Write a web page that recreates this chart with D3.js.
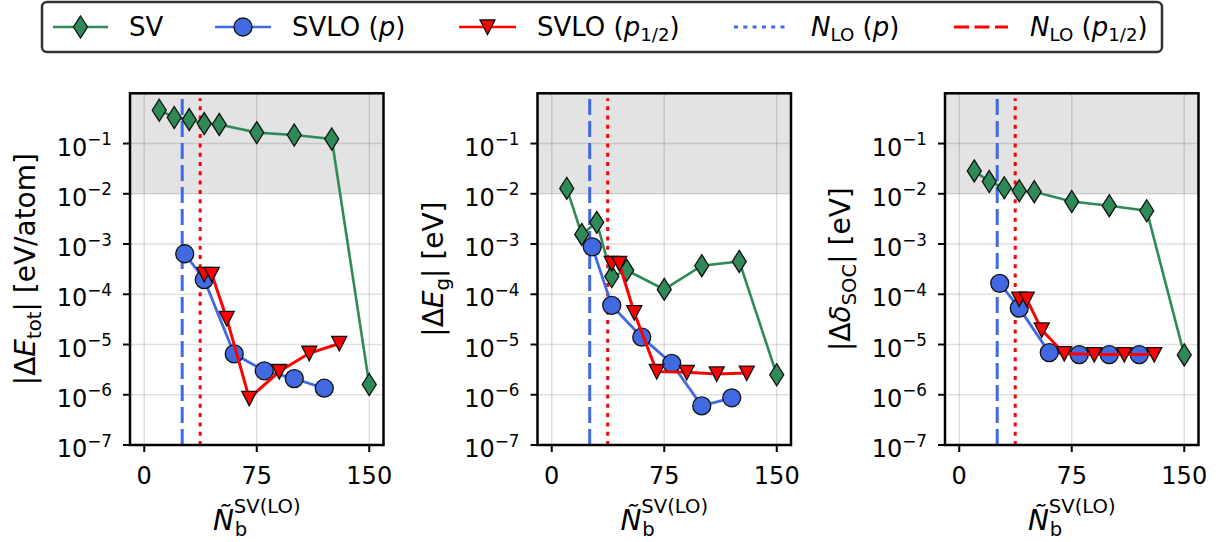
<!DOCTYPE html>
<html><head><meta charset="utf-8">
<script src="https://cdn.jsdelivr.net/npm/d3@7"></script>
<style>
body{margin:0;background:#fff}
svg{display:block}
text{font-family:"DejaVu Sans",sans-serif;fill:#000}
</style>
</head><body>
<svg id="c" width="1229" height="542"></svg>
<script>
// ---------- data ----------
const xTickValues = [0, 75, 150];
const yTickExponents = [-7, -6, -5, -4, -3, -2, -1];
const nLoP = 25.3;       // N_LO (p)
const nLoHalf = 37.3;    // N_LO (p1/2)
const shadeRange = [1e-2, 1];

const svX = [10, 20, 30, 40, 50, 75, 100, 125, 150];
const svloPX = [27, 40, 60, 80, 100, 120];
const svloHalfX = [40, 45, 55, 70, 90, 110, 130];

// panel 1 : |dE_tot| [eV/atom]
const svEtot = [0.46, 0.33, 0.30, 0.25, 0.24, 0.165, 0.148, 0.123, 1.6e-6];
const svloPEtot = [6.4e-4, 1.95e-4, 6.5e-6, 3.0e-6, 2.1e-6, 1.35e-6];
const svloHalfEtot = [2.5e-4, 2.5e-4, 3.3e-5, 8.5e-7, 2.9e-6, 6.7e-6, 1.05e-5];

// panel 2 : |dE_g| [eV]
const svEg = [0.0128, 1.55e-3, 2.7e-3, 2.25e-4, 3.0e-4, 1.25e-4, 3.7e-4, 4.5e-4, 2.5e-6];
const svloPEg = [8.8e-4, 6.0e-5, 1.4e-5, 4.2e-6, 6.0e-7, 8.7e-7];
const svloHalfEg = [4.1e-4, 4.1e-4, 4.3e-5, 2.9e-6, 2.8e-6, 2.6e-6, 2.7e-6];

// panel 3 : |d delta_SOC| [eV]
const svSoc = [0.0285, 0.0175, 0.0132, 0.0115, 0.011, 0.0070, 0.0058, 0.0046, 6.2e-6];
const svloPSoc = [1.65e-4, 5.3e-5, 6.9e-6, 6.3e-6, 6.3e-6, 6.3e-6];
const svloHalfSoc = [8.0e-5, 8.0e-5, 1.95e-5, 6.6e-6, 6.3e-6, 6.3e-6, 6.3e-6];

const legendLabels = ["SV", "SVLO (p)", "SVLO (p1/2)", "NLO (p)", "NLO (p1/2)"];

// ---------- styling ----------
const GREEN = "#2e8b57", BLUE = "#4169e1", RED = "#ff0000";
const TICK_FS = 24, LABEL_FS = 28, LEG_FS = 26;

const svg = d3.select("#c");

function mathText(text, parts, fs) {
  let cur = 0;
  parts.forEach(p => {
    const t = text.append("tspan").text(p.t);
    let target = 0, size = fs;
    if (p.sub) { target = p.sub * fs; size = fs * 0.7; }
    if (p.sup) { target = -p.sup * fs; size = fs * 0.7; }
    if (target - cur !== 0) t.attr("dy", target - cur);
    t.style("font-size", size + "px");
    if (p.it) t.style("font-style", "italic");
    cur = target;
  });
}

const panels = [
  { sv: svEtot, p: svloPEtot, h: svloHalfEtot,
    label: [{t: "|Δ"}, {t: "E", it: true}, {t: "tot", sub: 0.22}, {t: "| [eV/atom]"}] },
  { sv: svEg, p: svloPEg, h: svloHalfEg,
    label: [{t: "|Δ"}, {t: "E", it: true}, {t: "g", sub: 0.22}, {t: "| [eV]"}] },
  { sv: svSoc, p: svloPSoc, h: svloHalfSoc,
    label: [{t: "|Δ"}, {t: "δ", it: true}, {t: "SOC", sub: 0.22}, {t: "| [eV]"}] }
];

const plotLeft0 = 130, plotStep = 407.5, plotW = 253.5, plotTop = 93.3, plotBottom = 445;

function diamondPath(s) { return `M0,${-11*s}L${7*s},0L0,${11*s}L${-7*s},0Z`; }
function triPath(s) { return `M${-7.5*s},${-7*s}L${7.5*s},${-7*s}L0,${7.5*s}Z`; }

function drawMarkers(g, pts, type, color) {
  pts.forEach(([px, py]) => {
    if (type === "d") {
      g.append("path").attr("d", diamondPath(1)).attr("transform", `translate(${px},${py})`)
        .attr("fill", color).attr("stroke", "#111").attr("stroke-width", 1.3);
    } else if (type === "o") {
      g.append("circle").attr("cx", px).attr("cy", py).attr("r", 9)
        .attr("fill", color).attr("stroke", "#111").attr("stroke-width", 1.3);
    } else {
      g.append("path").attr("d", triPath(1)).attr("transform", `translate(${px},${py})`)
        .attr("fill", color).attr("stroke", "#111").attr("stroke-width", 1.3);
    }
  });
}

panels.forEach((pn, i) => {
  const left = plotLeft0 + i * plotStep;
  const x = d3.scaleLinear().domain([-9.5, 159.5]).range([left, left + plotW]);
  const y = d3.scaleLog().domain([1e-7, 1]).range([plotBottom, plotTop]);
  const g = svg.append("g");

  // background shading
  g.append("rect").attr("x", left).attr("y", y(shadeRange[1]))
    .attr("width", plotW).attr("height", y(shadeRange[0]) - y(shadeRange[1]))
    .attr("fill", "#e3e3e3");

  // grid
  xTickValues.forEach(v => g.append("line").attr("x1", x(v)).attr("x2", x(v))
    .attr("y1", plotTop).attr("y2", plotBottom).attr("stroke", "rgba(0,0,0,0.12)").attr("stroke-width", 1.5));
  yTickExponents.forEach(e => g.append("line").attr("x1", left).attr("x2", left + plotW)
    .attr("y1", y(Math.pow(10, e))).attr("y2", y(Math.pow(10, e))).attr("stroke", "rgba(0,0,0,0.12)").attr("stroke-width", 1.5));

  // vertical reference lines
  g.append("line").attr("x1", x(nLoP)).attr("x2", x(nLoP)).attr("y1", y(1e-7)).attr("y2", y(0.8))
    .attr("stroke", BLUE).attr("stroke-width", 3).attr("stroke-dasharray", "16,6");
  g.append("line").attr("x1", x(nLoHalf)).attr("x2", x(nLoHalf)).attr("y1", y(1e-7)).attr("y2", y(0.8))
    .attr("stroke", RED).attr("stroke-width", 3).attr("stroke-dasharray", "4,5.3");

  const line = d3.line().x(d => x(d[0])).y(d => y(d[1]));
  const series = [
    { xs: svX, ys: pn.sv, c: GREEN, m: "d", w: 2.6 },
    { xs: svloPX, ys: pn.p, c: BLUE, m: "o", w: 2.8 },
    { xs: svloHalfX, ys: pn.h, c: RED, m: "v", w: 3 }
  ];
  series.forEach(s => {
    const data = s.xs.map((xv, k) => [xv, s.ys[k]]);
    g.append("path").attr("d", line(data)).attr("fill", "none").attr("stroke", s.c).attr("stroke-width", s.w);
    drawMarkers(g, data.map(d => [x(d[0]), y(d[1])]), s.m, s.c);
  });

  // frame
  g.append("rect").attr("x", left).attr("y", plotTop).attr("width", plotW).attr("height", plotBottom - plotTop)
    .attr("fill", "none").attr("stroke", "#000").attr("stroke-width", 2.5);

  // ticks
  xTickValues.forEach(v => {
    g.append("line").attr("x1", x(v)).attr("x2", x(v)).attr("y1", plotBottom).attr("y2", plotBottom + 7)
      .attr("stroke", "#000").attr("stroke-width", 2);
    g.append("text").attr("x", x(v)).attr("y", plotBottom + 39).attr("text-anchor", "middle")
      .style("font-size", TICK_FS + "px").text(v);
  });
  yTickExponents.forEach(e => {
    const yy = y(Math.pow(10, e));
    g.append("line").attr("x1", left - 7).attr("x2", left).attr("y1", yy).attr("y2", yy)
      .attr("stroke", "#000").attr("stroke-width", 2);
    const t = g.append("text").attr("x", left - 18).attr("y", yy + 12).attr("text-anchor", "end");
    mathText(t, [{t: "10"}, {t: "−" + Math.abs(e), sup: 0.43}], TICK_FS);
  });

  // y label
  const cy = (plotTop + plotBottom) / 2;
  const yl = g.append("text").attr("text-anchor", "middle")
    .attr("transform", `translate(${left - 95},${cy}) rotate(-90)`);
  mathText(yl, pn.label, LABEL_FS);

  // x label: N~_b^{SV(LO)} as one text element
  const cx = left + plotW / 2;
  const xl = g.append("text").attr("x", 0).attr("y", 0).style("font-size", LABEL_FS + "px");
  const nT = xl.append("tspan").style("font-style", "italic").text("Ñ");
  const nw = nT.node().getComputedTextLength();
  const supT = xl.append("tspan").attr("dy", -17.5).style("font-size", (LABEL_FS * 0.7) + "px").text("SV(LO)");
  xl.append("tspan").attr("x", nw + 1).attr("dy", 23).style("font-size", (LABEL_FS * 0.7) + "px").text("b");
  const total = nw + supT.node().getComputedTextLength();
  xl.attr("transform", `translate(${cx - total / 2},${530})`);
});

// ---------- legend ----------
const leg = svg.append("g");
leg.append("rect").attr("x", 42).attr("y", 2).attr("width", 1120).attr("height", 50).attr("rx", 5)
  .attr("fill", "#fff").attr("stroke", "#333").attr("stroke-width", 2.5);
const ly = 27;
const legItems = [
  { x0: 53, x1: 108, tx: 129, c: GREEN, m: "d", parts: [{t: "SV"}] },
  { x0: 215, x1: 271, tx: 292, c: BLUE, m: "o", parts: [{t: "SVLO ("}, {t: "p", it: true}, {t: ")"}] },
  { x0: 459, x1: 516, tx: 537, c: RED, m: "v", parts: [{t: "SVLO ("}, {t: "p", it: true}, {t: "1/2", sub: 0.2}, {t: ")"}] },
  { x0: 734, x1: 789, tx: 811, c: BLUE, dash: "4,5.3", parts: [{t: "N", it: true}, {t: "LO", sub: 0.2}, {t: " ("}, {t: "p", it: true}, {t: ")"}] },
  { x0: 954, x1: 1008, tx: 1030, c: RED, dash: "15,5.5", parts: [{t: "N", it: true}, {t: "LO", sub: 0.2}, {t: " ("}, {t: "p", it: true}, {t: "1/2", sub: 0.2}, {t: ")"}] }
];
legItems.forEach((it, k) => {
  const ln = leg.append("line").attr("x1", it.x0).attr("x2", it.x1).attr("y1", ly).attr("y2", ly)
    .attr("stroke", it.c).attr("stroke-width", it.dash ? 3 : 2.6);
  if (it.dash) ln.attr("stroke-dasharray", it.dash);
  if (it.m) drawMarkers(leg, [[(it.x0 + it.x1) / 2, ly]], it.m, it.c);
  const t = leg.append("text").attr("x", it.tx).attr("y", ly + 9).attr("data-label", legendLabels[k]);
  mathText(t, it.parts, LEG_FS);
});
</script>
</body></html>
